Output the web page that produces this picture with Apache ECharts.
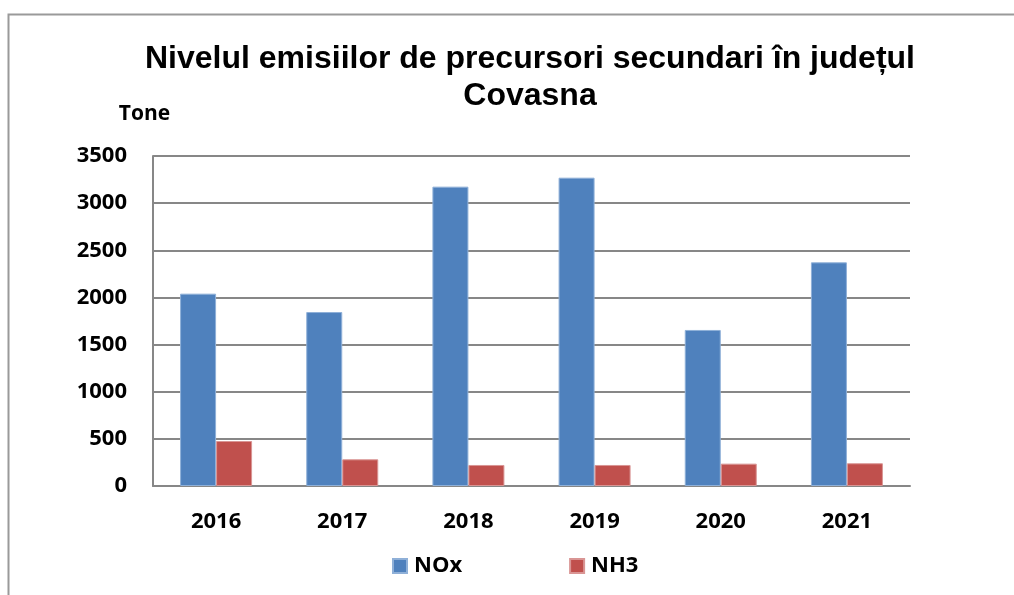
<!DOCTYPE html>
<html>
<head>
<meta charset="utf-8">
<script src="https://cdn.jsdelivr.net/npm/echarts@6/dist/echarts.min.js"></script>
<style>html,body{margin:0;padding:0;background:#fff}#c{width:1014px;height:595px}</style>
</head>
<body>
<div id="c"></div>
<script>
const categories = ['2016', '2017', '2018', '2019', '2020', '2021'];
const noxValues = [2040, 1845, 3175, 3270, 1655, 2372];
const nh3Values = [477, 283, 223, 223, 237, 241];
const seriesNames = ['NOx', 'NH3'];
const titleText = 'Nivelul emisiilor de precursori secundari în județul\nCovasna';
const yAxisName = 'Tone';

const chart = echarts.init(document.getElementById('c'), null, {renderer: 'canvas'});
const labelFont = '"Open Sans", "Liberation Sans", sans-serif';
chart.setOption({
  animation: false,
  backgroundColor: '#ffffff',
  graphic: [{
    type: 'rect',
    shape: {x: 8.5, y: 14.5, width: 1100, height: 700},
    style: {fill: 'none', stroke: '#9a9a9a', lineWidth: 2},
    silent: true
  }],
  title: {
    text: titleText,
    left: 525,
    top: 36,
    textAlign: 'center',
    textStyle: {
      fontFamily: '"Liberation Sans", Arial, sans-serif',
      fontWeight: 'bold',
      fontSize: 32,
      lineHeight: 37,
      color: '#000'
    }
  },
  legend: {
    data: seriesNames,
    bottom: 13,
    left: 387,
    itemWidth: 14,
    itemHeight: 14,
    itemGap: 107,
    icon: 'rect',
    textStyle: {fontFamily: labelFont, fontWeight: 'bold', fontSize: 22, color: '#000', padding: [0, 0, 0, 2]}
  },
  grid: {left: 153, right: 104, top: 156, bottom: 109, containLabel: false},
  xAxis: {
    type: 'category',
    data: categories,
    axisLine: {lineStyle: {color: '#878787', width: 2}},
    axisTick: {show: false},
    axisLabel: {margin: 25, fontFamily: labelFont, fontWeight: 'bold', fontSize: 22, color: '#000'}
  },
  yAxis: {
    type: 'value',
    min: 0,
    max: 3500,
    interval: 500,
    name: yAxisName,
    nameLocation: 'end',
    nameGap: 31,
    nameTextStyle: {fontFamily: labelFont, fontWeight: 'bold', fontSize: 21, color: '#000', align: 'center', padding: [0, 0, 0, -17]},
    axisLine: {show: true, lineStyle: {color: '#878787', width: 2}},
    axisTick: {show: false},
    axisLabel: {
      margin: 26, fontFamily: labelFont, fontWeight: 'bold', fontSize: 22, color: '#000',
      formatter: function (v) { return String(v); }
    },
    splitLine: {lineStyle: {color: '#878787', width: 2}}
  },
  series: [{
    name: seriesNames[0],
    type: 'bar',
    data: noxValues,
    barWidth: 36,
    barGap: '0%',
    itemStyle: {color: '#4f81bd', borderColor: '#8fb0d8', borderWidth: 1}
  }, {
    name: seriesNames[1],
    type: 'bar',
    data: nh3Values,
    barWidth: 36,
    barGap: '0%',
    itemStyle: {color: '#c0504d', borderColor: '#d99594', borderWidth: 1}
  }]
});
</script>
</body>
</html>
